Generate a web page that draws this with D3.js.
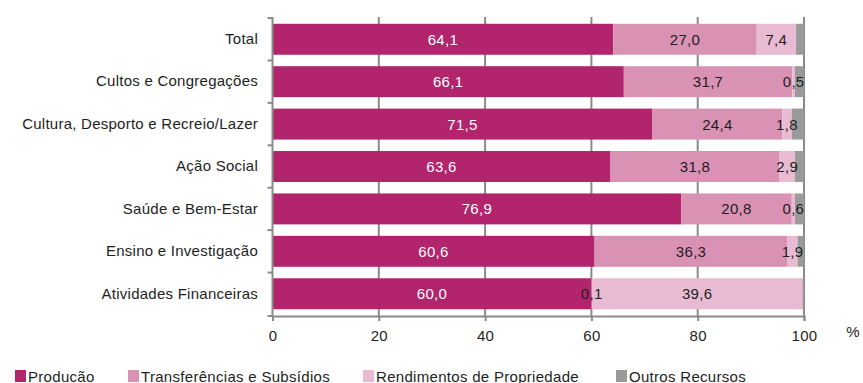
<!DOCTYPE html>
<html>
<head>
<meta charset="utf-8">
<script src="https://cdn.jsdelivr.net/npm/d3@7"></script>
<style>
  body { margin: 0; background: #fff; }
  svg text { font-family: "Liberation Sans", Arial, sans-serif; }
</style>
</head>
<body>
<script>
  // categories, top to bottom
  const categories = [
    "Total",
    "Cultos e Congregações",
    "Cultura, Desporto e Recreio/Lazer",
    "Ação Social",
    "Saúde e Bem-Estar",
    "Ensino e Investigação",
    "Atividades Financeiras",
  ];
  const seriesNames = [
    "Producão",
    "Transferências e Subsídios",
    "Rendimentos de Propriedade",
    "Outros Recursos",
  ];
  const producao = [64.1, 66.1, 71.5, 63.6, 76.9, 60.6, 60.0];
  const transferencias = [27.0, 31.7, 24.4, 31.8, 20.8, 36.3, 0.1];
  const rendimentos = [7.4, 0.5, 1.8, 2.9, 0.6, 1.9, 39.6];
  const outros = [1.5, 1.7, 2.3, 1.7, 1.7, 1.2, 0.3];
  // which series get a value label
  const labelled = [true, true, true, false];
  const xTicks = [0, 20, 40, 60, 80, 100];

  const colors = ["#b2246b", "#d991b4", "#e8bbd3", "#9a9a9a"];
  const labelColors = ["#ffffff", "#1e1e1e", "#1e1e1e", "#1e1e1e"];

  const width = 863, height = 383;
  const plot = { left: 272.5, right: 804, top: 17, bottom: 316 };
  const fontSize = "15px";

  const rows = categories.map((c, i) => ({
    cat: c,
    vals: [producao[i], transferencias[i], rendimentos[i], outros[i]],
  }));

  const x = d3.scaleLinear().domain([0, 100]).range([plot.left, plot.right]);
  const y = d3
    .scaleBand()
    .domain(categories)
    .range([plot.top, plot.bottom])
    .paddingInner(0.27)
    .paddingOuter(0.16);

  const svg = d3
    .select("body")
    .append("svg")
    .attr("width", width)
    .attr("height", height);

  const axisColor = "#8a8a8a";

  // vertical gridlines
  svg
    .append("g")
    .selectAll("line")
    .data(xTicks.slice(1))
    .enter()
    .append("line")
    .attr("x1", (d) => x(d))
    .attr("x2", (d) => x(d))
    .attr("y1", plot.top)
    .attr("y2", plot.bottom)
    .attr("stroke", axisColor)
    .attr("stroke-width", 2);

  // stacked segments
  const segs = [];
  rows.forEach((d) => {
    let acc = 0;
    d.vals.forEach((v, k) => {
      segs.push({ cat: d.cat, k, v, x0: acc, x1: acc + v });
      acc += v;
    });
  });

  svg
    .append("g")
    .selectAll("rect")
    .data(segs)
    .enter()
    .append("rect")
    .attr("x", (d) => x(d.x0))
    .attr("y", (d) => y(d.cat))
    .attr("width", (d) => Math.max(0, x(d.x1) - x(d.x0)))
    .attr("height", y.bandwidth())
    .attr("fill", (d) => colors[d.k]);

  // value labels, drawn on top of all segments
  svg
    .append("g")
    .selectAll("text")
    .data(segs.filter((d) => labelled[d.k]))
    .enter()
    .append("text")
    .attr("x", (d) => (x(d.x0) + x(d.x1)) / 2)
    .attr("y", (d) => y(d.cat) + y.bandwidth() / 2 + 5.5)
    .attr("text-anchor", "middle")
    .style("font-size", fontSize)
    .style("letter-spacing", "0.3px")
    .style("fill", (d) => labelColors[d.k])
    .text((d) => d.v.toFixed(1).replace(".", ","));

  // left axis (category labels)
  svg
    .append("g")
    .attr("transform", `translate(${plot.left},0)`)
    .call(d3.axisLeft(y).tickSize(0).tickPadding(14.5))
    .call((g) => g.select(".domain").remove())
    .call((g) =>
      g
        .selectAll("text")
        .style("font-size", fontSize)
        .style("letter-spacing", "0.25px")
        .style("fill", "#1e1e1e")
    );

  svg
    .append("line")
    .attr("x1", plot.left)
    .attr("x2", plot.left)
    .attr("y1", plot.top)
    .attr("y2", plot.bottom + 1)
    .attr("stroke", axisColor)
    .attr("stroke-width", 2);

  // category boundary ticks on the left axis
  const bounds = categories.map((c) => y(c) - (y.step() * y.paddingInner()) / 2);
  bounds.push(plot.bottom);
  svg
    .append("g")
    .selectAll("line")
    .data(bounds)
    .enter()
    .append("line")
    .attr("x1", plot.left - 5)
    .attr("x2", plot.left)
    .attr("y1", (d) => d)
    .attr("y2", (d) => d)
    .attr("stroke", axisColor)
    .attr("stroke-width", 2);

  // bottom axis
  const xAxis = svg
    .append("g")
    .attr("transform", `translate(0,${plot.bottom})`)
    .call(d3.axisBottom(x).tickValues(xTicks).tickSize(5).tickPadding(9));
  xAxis.select(".domain").attr("stroke", axisColor).attr("stroke-width", 2);
  xAxis.selectAll(".tick line").attr("stroke", axisColor).attr("stroke-width", 2);
  xAxis
    .selectAll("text")
    .style("font-size", fontSize)
    .style("letter-spacing", "0.3px")
    .style("fill", "#1e1e1e");

  svg
    .append("text")
    .attr("x", 853)
    .attr("y", 337)
    .attr("text-anchor", "middle")
    .style("font-size", fontSize)
    .style("fill", "#1e1e1e")
    .text("%");

  // legend
  const legendX = [15, 128, 363, 616];
  const legend = svg
    .append("g")
    .selectAll("g")
    .data(seriesNames)
    .enter()
    .append("g")
    .attr("transform", (d, i) => `translate(${legendX[i]},370)`);
  legend
    .append("rect")
    .attr("width", 11)
    .attr("height", 12)
    .attr("fill", (d, i) => colors[i]);
  legend
    .append("text")
    .attr("x", 13)
    .attr("y", 11.5)
    .style("font-size", fontSize)
    .style("letter-spacing", "0.3px")
    .style("fill", "#1e1e1e")
    .text((d) => d);
</script>
</body>
</html>
